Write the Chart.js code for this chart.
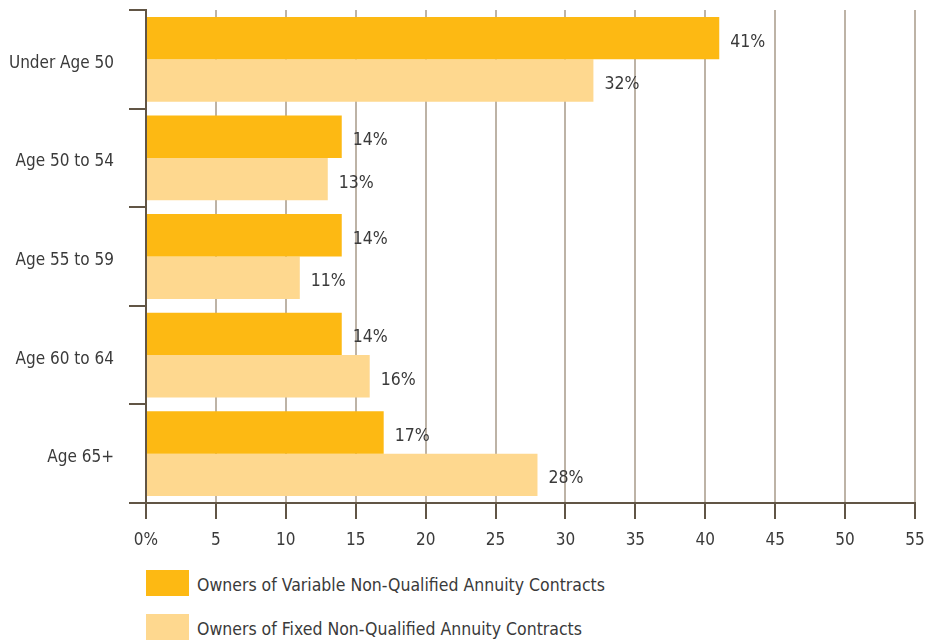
<!DOCTYPE html>
<html>
<head>
<meta charset="utf-8">
<script src="https://cdn.jsdelivr.net/npm/chart.js@4/dist/chart.umd.min.js"></script>
<style>
  html, body { margin: 0; padding: 0; background: #ffffff; }
  #wrap { position: relative; width: 930px; height: 642px; }
  #chart-box { position: absolute; left: 0; top: 0; width: 930px; height: 555px; }
  .legend { position: absolute; left: 146px; font-family: 'Liberation Sans Narrow', 'DejaVu Sans Condensed', Roboto, sans-serif; font-size: 17.5px; color: #3a3a3a; }
  .legend .row { position: absolute; left: 0; white-space: nowrap; height: 26px; }
  .legend .swatch { position: absolute; left: 0; top: 0; width: 43px; height: 26px; }
  .legend .label { position: absolute; left: 51px; top: 2px; line-height: 26px; }
</style>
</head>
<body>
<div id="wrap">
  <div id="chart-box"><canvas id="ageChart"></canvas></div>
  <div class="legend" id="legend"></div>
</div>
<script>
// Share of annuity contract owners by age band, in percent

const CATEGORIES = ['Under Age 50', 'Age 50 to 54', 'Age 55 to 59', 'Age 60 to 64', 'Age 65+'];
const VARIABLE_VALUES = [41, 14, 14, 14, 17];
const FIXED_VALUES    = [32, 13, 11, 16, 28];
const SERIES_NAMES = [
  'Owners of Variable Non-Qualified Annuity Contracts',
  'Owners of Fixed Non-Qualified Annuity Contracts',
];
const X_MAX = 55;

const VARIABLE_COLOR = '#FDB913';
const FIXED_COLOR    = '#FED88F';
const AXIS_COLOR     = '#615545';
const GRID_COLOR     = '#BDB3A6';
const TEXT_COLOR     = '#3a3a3a';
const FONT_FAMILY    = "'Liberation Sans Narrow', 'DejaVu Sans Condensed', Roboto, sans-serif";

// Percent labels just past the end of each bar
const valueLabels = {
  id: 'valueLabels',
  afterDatasetsDraw(chart) {
    const { ctx } = chart;
    ctx.save();
    ctx.fillStyle = TEXT_COLOR;
    ctx.font = `17.5px ${FONT_FAMILY}`;
    ctx.textAlign = 'left';
    ctx.textBaseline = 'middle';
    chart.data.datasets.forEach((ds, di) => {
      chart.getDatasetMeta(di).data.forEach((bar, i) => {
        ctx.fillText(ds.data[i] + '%', bar.x + 11, bar.y + 4);
      });
    });
    ctx.restore();
  },
};

const chart = new Chart(document.getElementById('ageChart'), {
  type: 'bar',
  data: {
    labels: CATEGORIES,
    datasets: [
      {
        label: SERIES_NAMES[0],
        data: VARIABLE_VALUES,
        backgroundColor: VARIABLE_COLOR,
        categoryPercentage: 0.86,
        barPercentage: 1.0,
      },
      {
        label: SERIES_NAMES[1],
        data: FIXED_VALUES,
        backgroundColor: FIXED_COLOR,
        categoryPercentage: 0.86,
        barPercentage: 1.0,
      },
    ],
  },
  options: {
    indexAxis: 'y',
    responsive: true,
    maintainAspectRatio: false,
    animation: false,
    layout: { padding: { top: 10, right: 15, left: 0, bottom: 0 } },
    plugins: {
      legend: { display: false },
      tooltip: { enabled: false },
    },
    scales: {
      x: {
        min: 0,
        max: X_MAX,
        ticks: {
          stepSize: 5,
          color: TEXT_COLOR,
          font: { family: FONT_FAMILY, size: 17 },
          padding: 11,
          callback: v => (v === 0 ? '0%' : v),
        },
        grid: {
          color: GRID_COLOR,
          lineWidth: 2,
          tickColor: AXIS_COLOR,
          tickLength: 16,
        },
        border: { color: AXIS_COLOR, width: 2 },
        afterFit: scale => {
          scale.height = 52;
          scale.paddingLeft = 0;
          scale.paddingRight = 0;
        },
      },
      y: {
        ticks: {
          color: TEXT_COLOR,
          font: { family: FONT_FAMILY, size: 17 },
          padding: 15,
          labelOffset: 4,
        },
        grid: {
          drawOnChartArea: false,
          color: AXIS_COLOR,
          lineWidth: 2,
          tickLength: 17,
        },
        border: { color: AXIS_COLOR, width: 2 },
        afterFit: scale => {
          scale.width = 146;
          // keep the label padding from pushing the plot down
          scale.paddingTop = 0;
          scale.paddingBottom = 0;
        },
      },
    },
  },
  plugins: [valueLabels],
});

// Legend rows underneath the plot
const legend = document.getElementById('legend');
const legendTops = [570, 614];
[VARIABLE_COLOR, FIXED_COLOR].forEach((color, i) => {
  const row = document.createElement('div');
  row.className = 'row';
  row.style.top = legendTops[i] + 'px';
  row.innerHTML = `<span class="swatch" style="background:${color}"></span><span class="label">${SERIES_NAMES[i]}</span>`;
  legend.appendChild(row);
});
</script>
</body>
</html>
